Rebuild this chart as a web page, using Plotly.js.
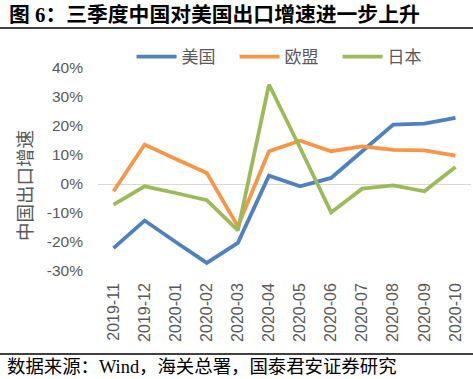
<!DOCTYPE html>
<html>
<head>
<meta charset="utf-8">
<script src="https://cdn.plot.ly/plotly-3.0.1.min.js"></script>
<style>
html,body{margin:0;padding:0;background:#fff;}
#chart{width:473px;height:379px;}
</style>
</head>
<body>
<div id="chart"></div>
<script>
const months = ["2019-11","2019-12","2020-01","2020-02","2020-03","2020-04","2020-05","2020-06","2020-07","2020-08","2020-09","2020-10"];
const usa = [-22.1,-12.6,-20.0,-27.2,-20.3,2.9,-0.8,2.1,11.3,20.5,20.8,22.8];
const eu = [-2.5,13.6,8.6,3.8,-14.6,11.3,14.9,11.3,13.0,11.8,11.6,9.8];
const japan = [-7.1,-0.8,-3.1,-5.6,-16.0,34.3,12.5,-9.8,-1.6,-0.5,-2.5,5.9];
const seriesNames = ["美国","欧盟","日本"];
const yTicks = [-30,-20,-10,0,10,20,30,40];

const cjk = '"Noto Sans CJK SC", sans-serif';
const serif = '"Liberation Serif", "Noto Sans CJK SC", serif';
const sans = '"Liberation Sans", Arial, sans-serif';
const mk = (y, name, color) => ({
  x: months, y: y.map(v => v/100), name: name, type: 'scatter', mode: 'lines',
  line: {color: color, width: 3.8}
});
const data = [
  mk(usa, seriesNames[0], '#4F81BD'),
  mk(eu, seriesNames[1], '#F79646'),
  mk(japan, seriesNames[2], '#9BBB59')
];
const PH = 203, PW = 373;
const layout = {
  width: 473, height: 379,
  margin: {l: 98, r: 2, t: 68, b: 108, autoexpand: false},
  paper_bgcolor: '#fff', plot_bgcolor: '#fff',
  font: {family: cjk, color: '#595959', size: 13},
  showlegend: true,
  legend: {orientation: 'h', x: 0.09, xanchor: 'left', y: (271-57)/PH, yanchor: 'middle',
           font: {family: cjk, size: 17, color: '#595959'}, itemwidth: 40, tracegroupgap: 0,
           entrywidth: 48, entrywidthmode: 'pixels',
           bgcolor: 'rgba(0,0,0,0)'},
  xaxis: {type: 'category', range: [-0.5, 11.5], tickangle: -90, showgrid: false, zeroline: false, showline: false,
          automargin: false, ticks: '', ticklabelstandoff: 8,
          tickfont: {family: sans, size: 16, color: '#595959'}},
  yaxis: {range: [-0.30, 0.40], tickvals: yTicks.map(v => v/100), ticktext: yTicks.map(v => v + '%'),
          showgrid: false, zeroline: true, zerolinecolor: '#d9d9d9', zerolinewidth: 1, showline: false,
          automargin: false, ticks: '', ticklabelstandoff: 14,
          tickfont: {family: sans, size: 15.5, color: '#595959'}},
  shapes: [
    {type: 'line', xref: 'paper', yref: 'paper', x0: -98/PW, x1: 375/PW, y0: (271-28)/PH, y1: (271-28)/PH,
     line: {color: '#000', width: 1.3}},
    {type: 'line', xref: 'paper', yref: 'paper', x0: -98/PW, x1: 375/PW, y0: (271-354)/PH, y1: (271-354)/PH,
     line: {color: '#000', width: 1.3}}
  ],
  annotations: [
    {text: '<b>图 6：三季度中国对美国出口增速进一步上升</b>', xref: 'paper', yref: 'paper',
     x: -91/PW, y: (271-14)/PH, xanchor: 'left', yanchor: 'middle', showarrow: false,
     font: {family: serif, size: 20.8, color: '#000'}},
    {text: '数据来源：Wind，海关总署，国泰君安证券研究', xref: 'paper', yref: 'paper',
     x: -93/PW, y: (271-367)/PH, xanchor: 'left', yanchor: 'middle', showarrow: false,
     font: {family: serif, size: 18.4, color: '#000'}},
    {text: '中国出口增速', xref: 'paper', yref: 'paper', x: (24-98)/PW, y: (271-186)/PH,
     xanchor: 'center', yanchor: 'middle', textangle: -90, showarrow: false,
     font: {family: cjk, size: 18.5, color: '#595959'}}
  ]
};
Plotly.newPlot('chart', data, layout, {displayModeBar: false, staticPlot: true});
</script>
</body>
</html>
